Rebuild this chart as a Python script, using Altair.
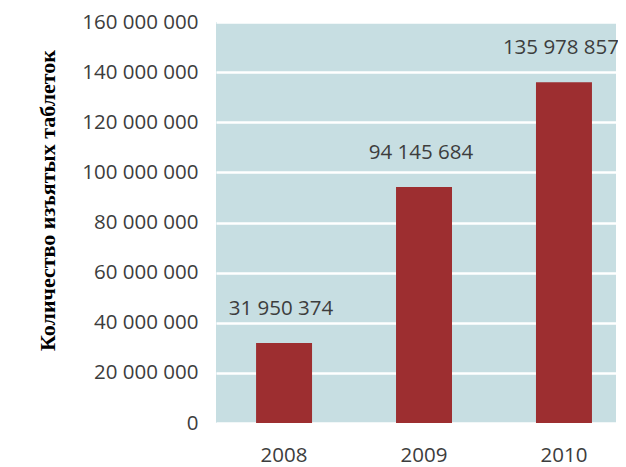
import altair as alt
import pandas as pd

years = ["2008", "2009", "2010"]
tablets = [31950374, 94145684, 135978857]
y_ticks = [0, 20000000, 40000000, 60000000, 80000000, 100000000, 120000000, 140000000, 160000000]

df = pd.DataFrame({"year": years, "value": tablets})

FONT = "Open Sans"
TXT = "#3d3d3d"

base = alt.Chart(df).transform_calculate(
    label="replace(format(datum.value, ','), /,/g, ' ')"
)

x = alt.X(
    "year:N",
    title=None,
    scale=alt.Scale(paddingInner=0.6, paddingOuter=0.229, align=0.625),
    axis=alt.Axis(labelAngle=0, labelFont=FONT, labelFontSize=20.5, labelColor=TXT,
                  labelPadding=22, ticks=False, domain=False, grid=False),
)

y = alt.Y(
    "value:Q",
    title="Количество изъятых таблеток",
    scale=alt.Scale(domain=[0, 160000000], nice=False),
    axis=alt.Axis(
        values=y_ticks,
        labelExpr="replace(format(datum.value, ','), /,/g, ' ')",
        labelFont=FONT, labelFontSize=20.5, labelColor=TXT, labelPadding=18,
        ticks=False, domain=False,
        grid=True, gridColor="white", gridWidth=2.5,
        titleFont="Liberation Serif", titleFontWeight="bold", titleFontSize=22,
        titleColor="black", titleAngle=-90, titleX=-169, titleY=178,
        titleAlign="center", titleBaseline="middle",
    ),
)

bars = base.mark_bar(color="#9d2e30").encode(x=x, y=y)
labels = base.mark_text(
    font=FONT, fontSize=20.5, color=TXT, baseline="alphabetic", dy=-28, dx=-3
).encode(x=x, y=y, text="label:N")

chart = (bars + labels).properties(
    width=400, height=401,
    padding={"left": 208, "top": 14, "right": 2, "bottom": 44},
    autosize=alt.AutoSizeParams(type="none"),
).configure_view(fill="#c7dee2", stroke=None)

chart.save("out.html", embed_options={"renderer": "svg", "actions": False})
